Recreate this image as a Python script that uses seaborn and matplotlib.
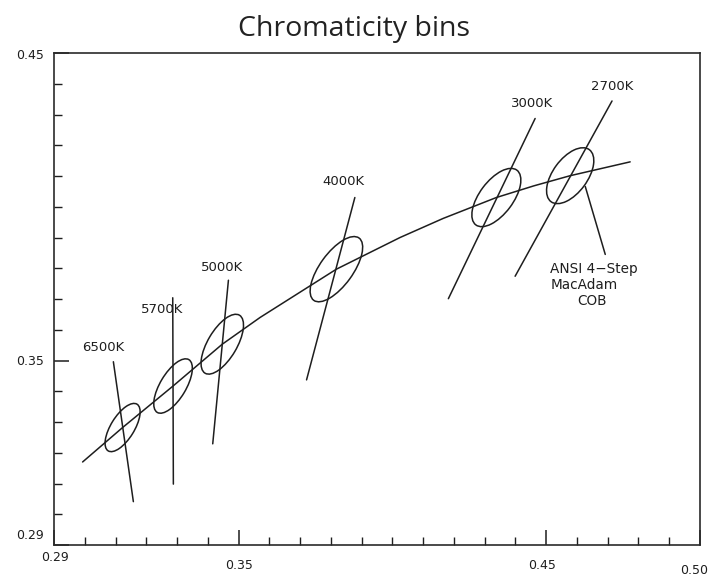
import numpy as np
import pandas as pd
import matplotlib
matplotlib.use("Agg")
import matplotlib.pyplot as plt
import seaborn as sns
from matplotlib.patches import Ellipse
from matplotlib.ticker import MultipleLocator, FixedLocator
from matplotlib.transforms import blended_transform_factory, ScaledTranslation

# ---- data ----
cct_labels = ["6500K", "5700K", "5000K", "4000K", "3000K", "2700K"]
center_x = [0.3123, 0.3287, 0.3447, 0.3818, 0.4338, 0.4578]
center_y = [0.3282, 0.3417, 0.3553, 0.3797, 0.4030, 0.4101]
ellipse_a = [0.00892, 0.0100, 0.01096, 0.01252, 0.01112, 0.01050]
ellipse_b = [0.0038, 0.0042, 0.00472, 0.00536, 0.00544, 0.00560]
ellipse_theta = [58.23, 59.09, 59.37, 54.00, 53.13, 53.70]

iso_top_x = [0.3093, 0.3286, 0.3467, 0.3878, 0.4464, 0.4714]
iso_top_y = [0.3496, 0.3704, 0.3761, 0.4030, 0.4287, 0.4344]
iso_bot_x = [0.3158, 0.3288, 0.3416, 0.3721, 0.4182, 0.4399]
iso_bot_y = [0.3041, 0.3098, 0.3229, 0.3437, 0.3701, 0.3774]

label_x = [0.3061, 0.3253, 0.3446, 0.3840, 0.4455, 0.4715]
label_y = [0.3542, 0.3665, 0.3801, 0.4082, 0.4335, 0.4392]

locus_x = [0.2993, 0.3123, 0.3287, 0.3447, 0.3570, 0.3818, 0.4025, 0.4165, 0.4338, 0.4460, 0.4578, 0.4773]
locus_y = [0.3170, 0.3282, 0.3417, 0.3553, 0.3640, 0.3797, 0.3900, 0.3962, 0.4030, 0.4068, 0.4101, 0.4146]

leader_x = [0.4627, 0.4692]
leader_y = [0.4066, 0.3845]
note_lines = ["ANSI 4\u2212Step", "MacAdam", "COB"]
note_x = [0.4513, 0.4513, 0.4601]
note_y = [0.3796, 0.3745, 0.3693]

xtick_vals = [0.29, 0.35, 0.45, 0.50]
xtick_labels = ["0.29", "0.35", "0.45", "0.50"]
ytick_vals = [0.29, 0.35, 0.45]
ytick_labels = ["0.29", "0.35", "0.45"]

title = "Chromaticity bins"

# ---- style ----
sns.set_theme(style="white")
plt.rcParams["font.family"] = ["DejaVu Sans"]
ink = "#1e1e1e"

fig = plt.figure(figsize=(7.08, 5.75), dpi=100)
ax = fig.add_axes([54 / 708, 30 / 575, 646 / 708, 492 / 575])

# Planckian locus
locus = pd.DataFrame({"x": locus_x, "y": locus_y})
sns.lineplot(data=locus, x="x", y="y", sort=False, color=ink, lw=1.1, ax=ax)

# isotherm lines, ellipses, labels
for i in range(len(cct_labels)):
    seg = pd.DataFrame({"x": [iso_top_x[i], iso_bot_x[i]], "y": [iso_top_y[i], iso_bot_y[i]]})
    sns.lineplot(data=seg, x="x", y="y", sort=False, color=ink, lw=1.1, ax=ax)
    ax.add_patch(Ellipse((center_x[i], center_y[i]), 2 * ellipse_a[i], 2 * ellipse_b[i],
                         angle=ellipse_theta[i], fill=False, edgecolor=ink, lw=1.1))
    ax.text(label_x[i], label_y[i], cct_labels[i], ha="center", va="center",
            fontsize=9.5, color=ink)

# leader line and note
lead = pd.DataFrame({"x": leader_x, "y": leader_y})
sns.lineplot(data=lead, x="x", y="y", sort=False, color=ink, lw=1.1, ax=ax)
for t, x, y in zip(note_lines, note_x, note_y):
    ax.text(x, y, t, ha="left", va="center", fontsize=9.8, color=ink)

ax.set_xlim(0.29, 0.50)
ax.set_ylim(0.29, 0.45)
ax.set_xlabel("")
ax.set_ylabel("")

# ticks
ax.xaxis.set_major_locator(FixedLocator(xtick_vals))
ax.yaxis.set_major_locator(FixedLocator(ytick_vals))
ax.xaxis.set_minor_locator(MultipleLocator(0.01))
ax.yaxis.set_minor_locator(MultipleLocator(0.01))
ax.tick_params(which="major", direction="in", length=11, width=1.1, color=ink,
               bottom=True, left=True, top=False, right=False)
ax.tick_params(which="minor", direction="in", length=5.5, width=1.0, color=ink,
               bottom=True, left=True, top=False, right=False)
ax.set_xticklabels([])
ax.set_yticklabels([])

# tick labels placed with small individual offsets as in the reference
xt_offsets = [-9, -15, -15, -18]  # points below axis
xt_dx = [1, 0, -3, -4]
trans_x = blended_transform_factory(ax.transData, ax.transAxes)
for v, lab, dy, dx in zip(xtick_vals, xtick_labels, xt_offsets, xt_dx):
    ax.text(v, 0, lab, transform=trans_x + ScaledTranslation(dx / 72, dy / 72, fig.dpi_scale_trans),
            ha="center", va="center", fontsize=9, color=ink)
yt_dy = [7, -1, -2]
trans_y = blended_transform_factory(ax.transAxes, ax.transData)
for v, lab, dy in zip(ytick_vals, ytick_labels, yt_dy):
    ax.text(0, v, lab, transform=trans_y + ScaledTranslation(-7 / 72, dy / 72, fig.dpi_scale_trans),
            ha="right", va="center", fontsize=9, color=ink)

for s in ax.spines.values():
    s.set_visible(True)
    s.set_color("#2a2a2a")
    s.set_linewidth(1.2)

fig.text(0.5, 1 - 29 / 575, title, ha="center", va="center", fontsize=20.5,
         family=["Open Sans", "DejaVu Sans"], color="#222222")

fig.savefig("out.png", dpi=100)
